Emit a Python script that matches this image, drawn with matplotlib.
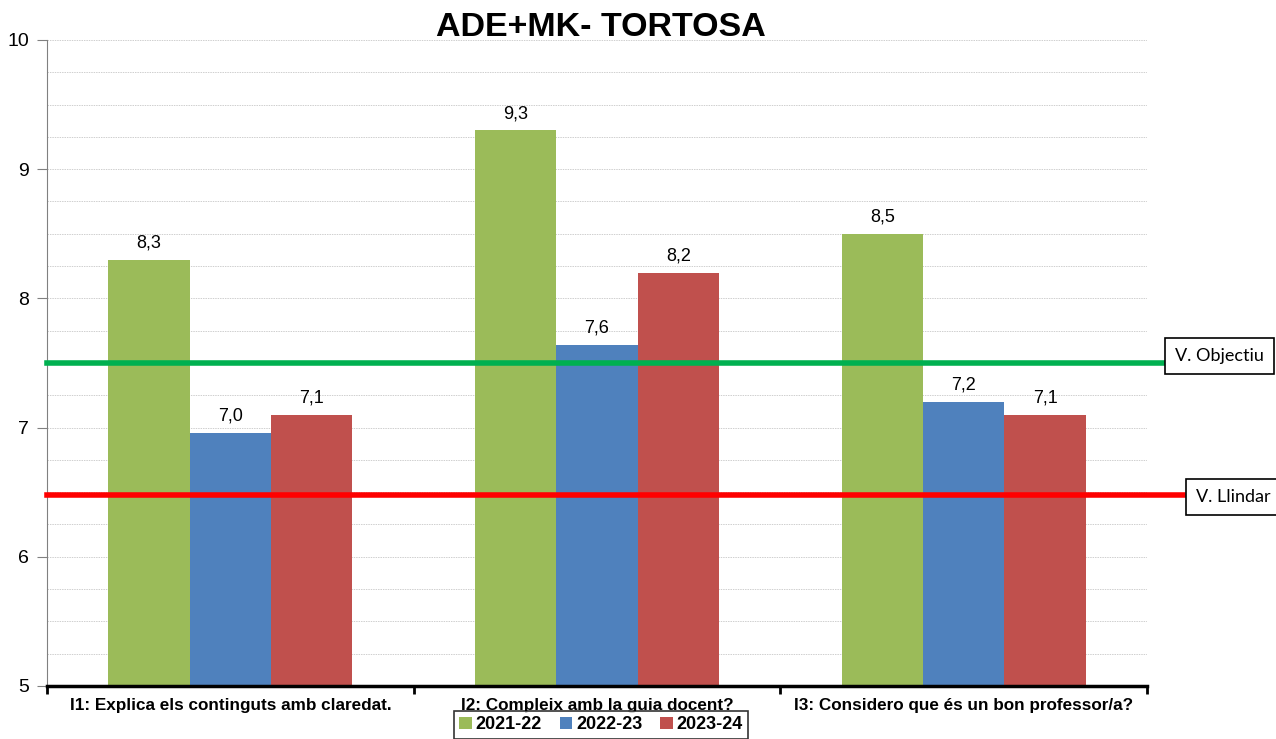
import matplotlib
matplotlib.use("Agg")
import matplotlib.pyplot as plt
import numpy as np

plt.rcParams["font.family"] = ["Liberation Sans", "DejaVu Sans"]

categories = ["I1: Explica els continguts amb claredat.",
              "I2: Compleix amb la guia docent?",
              "I3: Considero que és un bon professor/a?"]
years = ["2021-22", "2022-23", "2023-24"]
v2122 = [8.3, 9.3, 8.5]
v2223 = [6.96, 7.64, 7.2]
v2324 = [7.1, 8.2, 7.1]
objectiu = 7.5
llindar = 6.48

colors = ["#9BBB59", "#4F81BD", "#C0504D"]

fig = plt.figure(figsize=(12.76, 7.39), dpi=100)
ax = fig.add_axes([47 / 1276, 53 / 739, 1100 / 1276, 646 / 739])

x = np.arange(len(categories))
w = 0.222
for i, (vals, c, lab) in enumerate(zip([v2122, v2223, v2324], colors, years)):
    bars = ax.bar(x + (i - 1) * w, [v - 5 for v in vals], w, bottom=5, color=c,
                  label=lab, zorder=3)
    for b, v in zip(bars, vals):
        ax.text(b.get_x() + w / 2, v + 0.065, f"{v:.1f}".replace(".", ","),
                ha="center", va="bottom", fontsize=13, zorder=4)

ax.set_xlim(-0.5, 2.5)
ax.set_ylim(5, 10)
ax.set_yticks(range(5, 11))
ax.set_yticks(np.arange(5, 10.01, 0.25), minor=True)
ax.tick_params(axis="y", which="minor", length=0)
ax.tick_params(axis="y", which="major", length=7, color="#808080", labelsize=14, pad=6)
ax.grid(axis="y", which="both", color="#cfcfcf", ls=(0, (1.5, 1)), lw=0.7, zorder=0)
ax.set_xticks([-0.5, 0.5, 1.5, 2.5])
ax.set_xticklabels([])
ax.tick_params(axis="x", length=6, width=2, color="black", direction="out")
for xi, cat in zip(x, categories):
    ax.text(xi, 4.905, cat, ha="center", va="top", fontsize=12.3, fontweight="bold")

for s in ["top", "right"]:
    ax.spines[s].set_visible(False)
ax.spines["left"].set_color("#808080")
ax.spines["bottom"].set_linewidth(2.5)
ax.spines["bottom"].set_zorder(5)

ax.plot([-0.5, 2.543], [objectiu, objectiu], color="#00B050", lw=4, clip_on=False, zorder=6)
ax.plot([-0.5, 2.598], [llindar, llindar], color="#FF0000", lw=4, clip_on=False, zorder=6)

box = dict(boxstyle="square,pad=0.55", fc="white", ec="black", lw=1.2)
fig.text(1175 / 1276, 1 - 356 / 739, "V. Objectiu", fontsize=13, family="Lato",
         ha="left", va="center", bbox=box)
fig.text(1196 / 1276, 1 - 497 / 739, "V. Llindar", fontsize=13, family="Lato",
         ha="left", va="center", bbox=box)

fig.text(601 / 1276, 1 - 27 / 739, "ADE+MK- TORTOSA", ha="center", va="center",
         fontsize=24.5, fontweight="bold")

leg = fig.legend(loc="lower center", bbox_to_anchor=(601 / 1276, -0.012), ncol=3,
                 frameon=True, fancybox=False, edgecolor="black", handlelength=0.7,
                 handleheight=0.7, handletextpad=0.2, columnspacing=1.0,
                 prop={"weight": "bold", "size": 13}, borderpad=0.3)
leg.get_frame().set_linewidth(1.2)

fig.savefig("out.png", dpi=100)
